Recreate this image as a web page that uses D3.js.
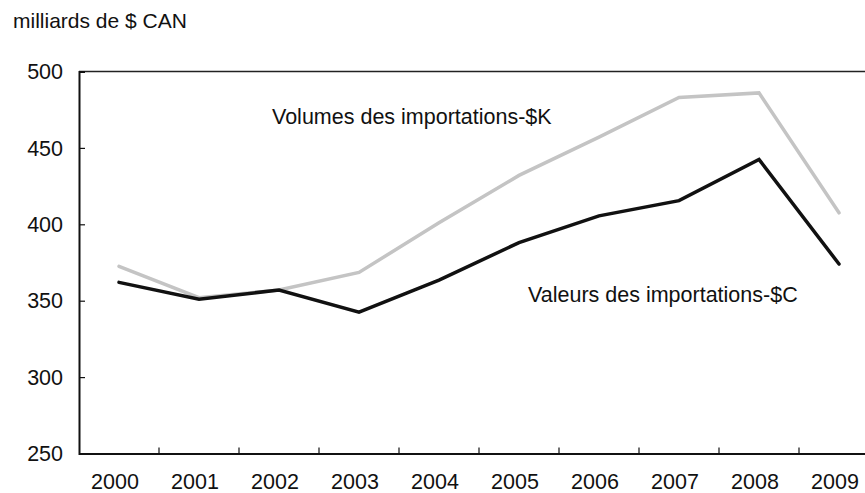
<!DOCTYPE html>
<html><head><meta charset="utf-8">
<script src="https://cdn.jsdelivr.net/npm/d3@7"></script>
<style>body{margin:0;background:#fff;overflow:hidden}svg{display:block}text{font-family:"Liberation Sans",Arial,sans-serif;fill:#111}</style>
</head><body>
<svg id="c" width="865" height="493"></svg>
<script>
const years = ["2000","2001","2002","2003","2004","2005","2006","2007","2008","2009"];
const volumes = [372.5, 352, 357, 368.5, 401, 432, 457, 483, 486, 407.5];
const valeurs = [362, 351, 357, 342.5, 363.5, 388, 405.5, 415.5, 442.5, 374];
const yTicks = [250, 300, 350, 400, 450, 500];
const unitLabel = "milliards de $ CAN";
const volLabel = "Volumes des importations-$K";
const valLabel = "Valeurs des importations-$C";

const svg = d3.select("#c");
const L = 79, R = 879, T = 71.5, B = 453.5;
const FS = 21.5;
const x = d3.scaleBand().domain(years).range([L, R]).padding(0);
const y = d3.scaleLinear().domain([250, 500]).range([B, T]);

// top border
svg.append("line").attr("x1", L).attr("x2", R).attr("y1", T).attr("y2", T)
  .attr("stroke", "#222").attr("stroke-width", 1.3);

// y axis
const ya = svg.append("g").attr("transform", `translate(${L},0)`)
  .call(d3.axisRight(y).tickValues(yTicks).tickSize(6).tickFormat(""));
ya.select(".domain").attr("stroke", "#111").attr("stroke-width", 2);
ya.selectAll(".tick line").attr("stroke", "#111").attr("stroke-width", 1.2);
svg.append("g").selectAll("text").data(yTicks).join("text")
  .attr("x", 63).attr("y", d => y(d)).attr("dy", "0.36em")
  .attr("text-anchor", "end").attr("font-size", FS).text(d => d);

// x axis
const xa = svg.append("g").attr("transform", `translate(0,${B})`)
  .call(d3.axisTop(x).tickSize(0).tickFormat(""));
xa.select(".domain").attr("stroke", "#111").attr("stroke-width", 2);
xa.selectAll(".tick").remove();
svg.append("g").selectAll("line").data(years.slice(1)).join("line")
  .attr("x1", d => x(d)).attr("x2", d => x(d)).attr("y1", B).attr("y2", B - 6)
  .attr("stroke", "#111").attr("stroke-width", 1.2);
svg.append("g").selectAll("text").data(years).join("text")
  .attr("x", d => x(d) + x.bandwidth() / 2 - 4).attr("y", 489)
  .attr("text-anchor", "middle").attr("font-size", FS).text(d => d);

const line = d3.line().x((d, i) => x(years[i]) + x.bandwidth() / 2).y(d => y(d));
svg.append("path").datum(volumes).attr("d", line).attr("fill", "none")
  .attr("stroke", "#c4c4c4").attr("stroke-width", 3.5).attr("stroke-linejoin", "miter").attr("stroke-linecap", "round");
svg.append("path").datum(valeurs).attr("d", line).attr("fill", "none")
  .attr("stroke", "#111").attr("stroke-width", 3.5).attr("stroke-linejoin", "miter").attr("stroke-linecap", "round");

svg.append("text").attr("x", 13).attr("y", 28).attr("font-size", 21).text(unitLabel);
svg.append("text").attr("x", 272).attr("y", 124).attr("font-size", FS).text(volLabel);
svg.append("text").attr("x", 528).attr("y", 302).attr("font-size", FS).text(valLabel);
</script>
</body></html>
